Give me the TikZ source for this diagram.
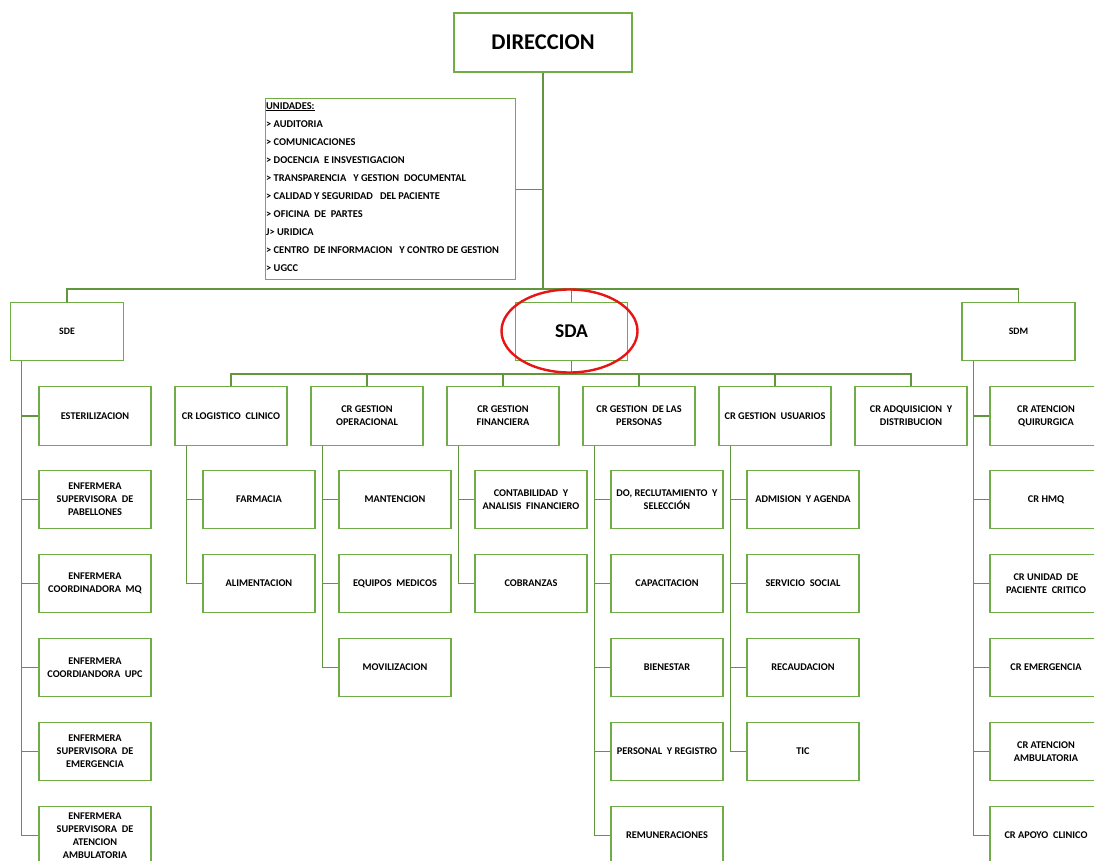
\documentclass[tikz,border=0pt]{standalone}
\usepackage{fontspec}
\setmainfont{Carlito}
\definecolor{boxgreen}{RGB}{112,173,71}
\definecolor{linegreen}{RGB}{98,150,60}
\definecolor{markred}{RGB}{232,20,22}
\tikzset{
  unit/.style={draw=boxgreen, line width=1.3pt, minimum width=112pt, minimum height=58.5pt,
    inner sep=1pt, align=center, font=\fontsize{10.3}{13}\selectfont\bfseries},
  link/.style={draw=linegreen, line width=1.2pt},
}
\begin{document}
\begin{tikzpicture}[x=1pt,y=-1pt]
      \clip (0,0) rectangle (1094,861);
      \node[unit, minimum width=178pt, minimum height=59pt, font=\fontsize{22.5}{26}\selectfont\bfseries] (dir) at (543,42.5) {DIRECCION};
      \node[unit, minimum width=249.5pt, minimum height=181pt, anchor=north west] (unidades) at (265,98) {};
      \node[anchor=north west, align=left, inner sep=0pt, font=\fontsize{10.4}{18}\selectfont\bfseries] (unidadestxt) at (266,102)
        {\underline{UNIDADES:}\\
         > AUDITORIA\\
         > COMUNICACIONES\\
         > DOCENCIA \ E INSVESTIGACION\\
         > TRANSPARENCIA \ \ Y GESTION \ DOCUMENTAL\\
         > CALIDAD Y SEGURIDAD \ \ DEL PACIENTE\\
         > OFICINA \ DE \ PARTES\\
         J> URIDICA\\
         > CENTRO \ DE INFORMACION \ \ Y CONTRO DE GESTION\\
         > UGCC};
      % subdirecciones
      \node[unit, minimum width=113pt, font=\fontsize{9.8}{11}\selectfont\bfseries] (sde) at (67,331.5) {SDE};
      \node[unit, font=\fontsize{19.5}{22}\selectfont\bfseries] (sda) at (571.5,331.5) {SDA};
      \node[unit, minimum width=113pt, font=\fontsize{9.8}{11}\selectfont\bfseries] (sdm) at (1018.5,331.5) {SDM};
      % SDE
      \node[unit] (sde1) at (95,416) {ESTERILIZACION};
      \node[unit] (sde2) at (95,499.5) {ENFERMERA\\SUPERVISORA \ DE\\PABELLONES};
      \node[unit] (sde3) at (95,583.5) {ENFERMERA\\COORDINADORA \ MQ};
      \node[unit] (sde4) at (95,667.5) {ENFERMERA\\COORDIANDORA \ UPC};
      \node[unit] (sde5) at (95,751.5) {ENFERMERA\\SUPERVISORA \ DE\\EMERGENCIA};
      \node[unit] (sde6) at (95,835.5) {ENFERMERA\\SUPERVISORA \ DE\\ATENCION\\AMBULATORIA};
      % SDA
      \node[unit] (log) at (231,416) {CR LOGISTICO \ CLINICO};
      \node[unit] (ope) at (367,416) {CR GESTION\\OPERACIONAL};
      \node[unit] (fin) at (503,416) {CR GESTION\\FINANCIERA};
      \node[unit] (per) at (639,416) {CR GESTION \ DE LAS\\PERSONAS};
      \node[unit] (usu) at (775,416) {CR GESTION \ USUARIOS};
      \node[unit] (adq) at (911,416) {CR ADQUISICION \ Y\\DISTRIBUCION};
      \node[unit] (log1) at (259,499.5) {FARMACIA};
      \node[unit] (log2) at (259,583.5) {ALIMENTACION};
      \node[unit] (ope1) at (395,499.5) {MANTENCION};
      \node[unit] (ope2) at (395,583.5) {EQUIPOS \ MEDICOS};
      \node[unit] (ope3) at (395,667.5) {MOVILIZACION};
      \node[unit] (fin1) at (531,499.5) {CONTABILIDAD \ Y\\ANALISIS \ FINANCIERO};
      \node[unit] (fin2) at (531,583.5) {COBRANZAS};
      \node[unit] (per1) at (667,499.5) {DO, RECLUTAMIENTO \ Y\\SELECCIÓN};
      \node[unit] (per2) at (667,583.5) {CAPACITACION};
      \node[unit] (per3) at (667,667.5) {BIENESTAR};
      \node[unit] (per4) at (667,751.5) {PERSONAL \ Y REGISTRO};
      \node[unit] (per5) at (667,835.5) {REMUNERACIONES};
      \node[unit] (usu1) at (803,499.5) {ADMISION \ Y AGENDA};
      \node[unit] (usu2) at (803,583.5) {SERVICIO \ SOCIAL};
      \node[unit] (usu3) at (803,667.5) {RECAUDACION};
      \node[unit] (usu4) at (803,751.5) {TIC};
      % SDM
      \node[unit] (sdm1) at (1046,416) {CR ATENCION\\QUIRURGICA};
      \node[unit] (sdm2) at (1046,499.5) {CR HMQ};
      \node[unit] (sdm3) at (1046,583.5) {CR UNIDAD \ DE\\PACIENTE \ CRITICO};
      \node[unit] (sdm4) at (1046,667.5) {CR EMERGENCIA};
      \node[unit] (sdm5) at (1046,751.5) {CR ATENCION\\AMBULATORIA};
      \node[unit] (sdm6) at (1046,835.5) {CR APOYO \ CLINICO};
      \coordinate (top) at (543,289);
      \coordinate (mid) at (571.5,374);
      \begin{scope}[link]
        \draw[line width=1.6pt] (dir.south) -- (top);
        \draw (unidades.east) -- (unidades.east -| top);
        \draw (sde.north) |- (top) -| (sdm.north);
        \draw[line width=1.6pt] (sda.north) -- (sda.north |- top);
        \draw[line width=1.6pt] (sda.south) -- (mid);
        \draw (log.north) |- (mid) -| (adq.north);
        \draw (ope.north) -- (ope.north |- mid);
        \draw (fin.north) -- (fin.north |- mid);
        \draw (per.north) -- (per.north |- mid);
        \draw (usu.north) -- (usu.north |- mid);
        \draw ([xshift=12pt]sde.south west) |- (sde1.west);
        \draw ([xshift=12pt]sde.south west) |- (sde2.west);
        \draw ([xshift=12pt]sde.south west) |- (sde3.west);
        \draw ([xshift=12pt]sde.south west) |- (sde4.west);
        \draw ([xshift=12pt]sde.south west) |- (sde5.west);
        \draw ([xshift=12pt]sde.south west) |- (sde6.west);
        \draw ([xshift=12pt]log.south west) |- (log1.west);
        \draw ([xshift=12pt]log.south west) |- (log2.west);
        \draw ([xshift=12pt]ope.south west) |- (ope1.west);
        \draw ([xshift=12pt]ope.south west) |- (ope2.west);
        \draw ([xshift=12pt]ope.south west) |- (ope3.west);
        \draw ([xshift=12pt]fin.south west) |- (fin1.west);
        \draw ([xshift=12pt]fin.south west) |- (fin2.west);
        \draw ([xshift=12pt]per.south west) |- (per1.west);
        \draw ([xshift=12pt]per.south west) |- (per2.west);
        \draw ([xshift=12pt]per.south west) |- (per3.west);
        \draw ([xshift=12pt]per.south west) |- (per4.west);
        \draw ([xshift=12pt]per.south west) |- (per5.west);
        \draw ([xshift=12pt]usu.south west) |- (usu1.west);
        \draw ([xshift=12pt]usu.south west) |- (usu2.west);
        \draw ([xshift=12pt]usu.south west) |- (usu3.west);
        \draw ([xshift=12pt]usu.south west) |- (usu4.west);
        \draw ([xshift=12pt]sdm.south west) |- (sdm1.west);
        \draw ([xshift=12pt]sdm.south west) |- (sdm2.west);
        \draw ([xshift=12pt]sdm.south west) |- (sdm3.west);
        \draw ([xshift=12pt]sdm.south west) |- (sdm4.west);
        \draw ([xshift=12pt]sdm.south west) |- (sdm5.west);
        \draw ([xshift=12pt]sdm.south west) |- (sdm6.west);
      \end{scope}
      \draw[markred, line width=2.4pt] (569.5,331) ellipse [x radius=68pt, y radius=41.5pt];
    \end{tikzpicture}
\end{document}
